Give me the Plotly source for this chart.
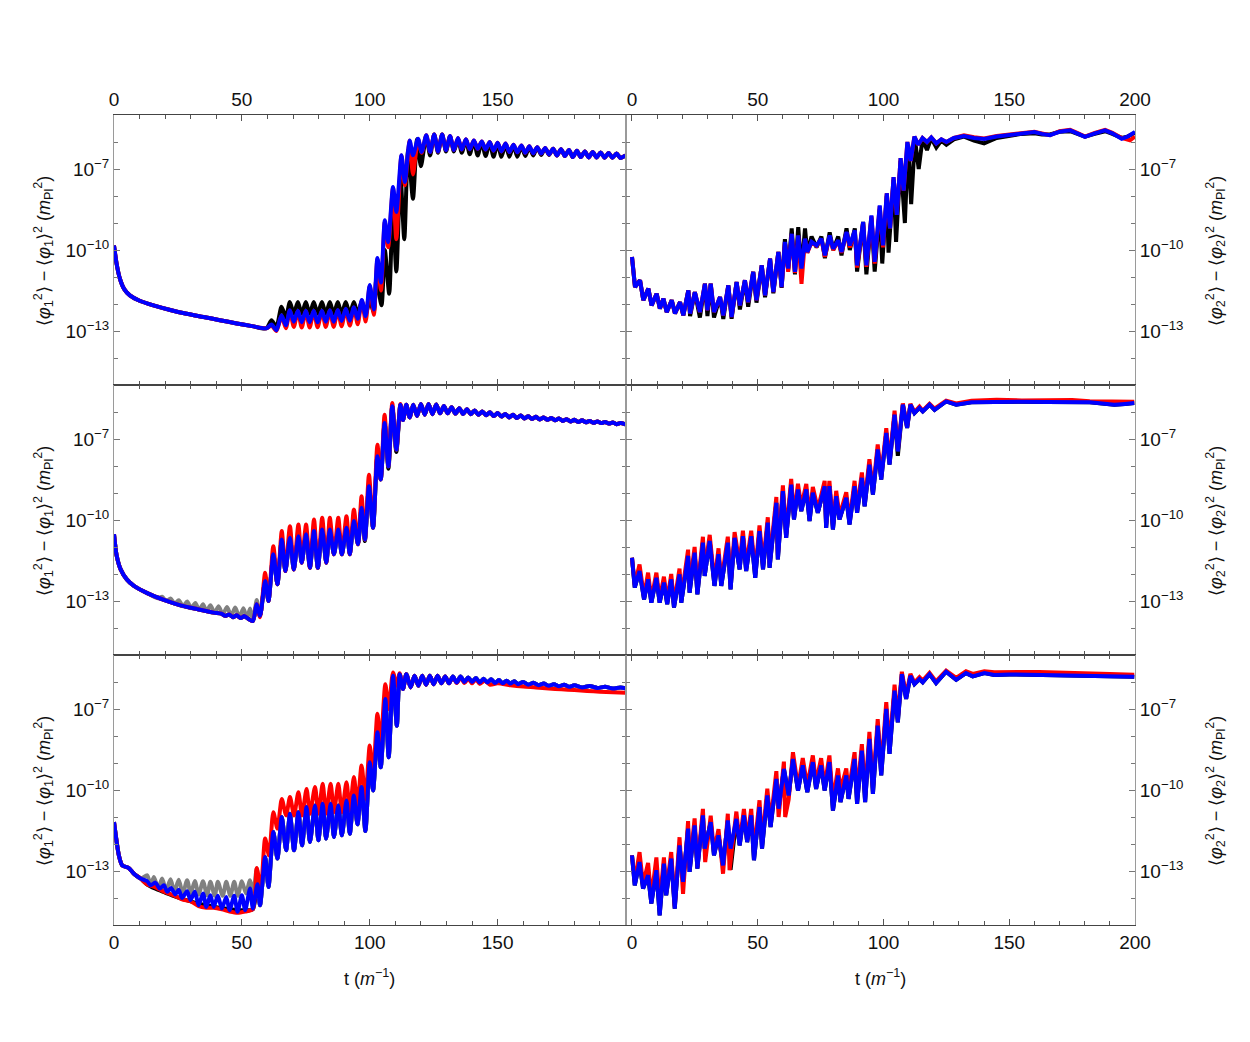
import plotly.graph_objects as go

# ---------------- data: (t in 1/m, log10 of variance in m_Pl^2) ----------------
# ---- top-left panel ----
tl_start = [(0,-9.83),(1,-10.5),(2.3,-11.06),(4,-11.45),(6.2,-11.68),(10,-11.88),(15.4,-12.05),(22,-12.22),
            (28.4,-12.36),(35,-12.48),(41.4,-12.6),(48,-12.72),(54,-12.82),(59.6,-12.9)]
tl_blue_mid = [(61.6,-12.76),(63.5,-12.97),(65.5,-12.42),(67.2,-12.79),(68.75,-12.23),(70.3,-12.66),(71.9,-12.25),
               (73.4,-12.68),(75.0,-12.25),(76.5,-12.68),(78.1,-12.25),(79.6,-12.68),(81.3,-12.25),(82.8,-12.66),
               (84.4,-12.23),(85.9,-12.66),(87.5,-12.22),(89.0,-12.63),(90.6,-12.18),(92.2,-12.62),(93.8,-12.12),
               (95.3,-12.55),(96.9,-11.85),(98.4,-12.45),(100,-11.3),(101.6,-12.2),(103,-10.3),(104.4,-11.2),
               (105.9,-8.9),(107.2,-9.7),(109.1,-7.67),(110.4,-8.59),(112.4,-6.49),(113.7,-7.48),(115.6,-5.94),
               (116.9,-6.49),(118.9,-5.88),(120.3,-6.37)]
tl_red_mid = [(61.6,-12.8),(63.5,-13.0),(65.5,-12.45),(67.2,-12.9),(68.75,-12.25),(70.3,-12.85),(71.9,-12.27),
              (73.4,-12.87),(75.0,-12.27),(76.5,-12.87),(78.1,-12.27),(79.6,-12.86),(81.3,-12.27),(82.8,-12.85),
              (84.4,-12.25),(85.9,-12.85),(87.5,-12.24),(89.0,-12.82),(90.6,-12.2),(92.2,-12.8),(93.8,-12.14),
              (95.3,-12.75),(96.9,-11.87),(98.4,-12.65),(100,-11.32),(101.6,-12.4),(103,-10.35),(104.4,-11.5),
              (105.9,-8.95),(107.2,-9.9),(109.1,-7.7),(110.4,-9.6),(112.4,-6.5),(113.7,-7.6),(115.6,-5.95),
              (116.9,-7.2),(118.9,-5.9),(120.3,-6.4)]
tl_black_mid = [(61.6,-12.6),(63.5,-12.85),(65.5,-12.1),(67.2,-12.5),(68.75,-11.93),(70.3,-12.36),(71.9,-11.93),
                (73.4,-12.36),(75.0,-11.93),(76.5,-12.36),(78.1,-11.93),(79.6,-12.36),(81.3,-11.93),(82.8,-12.36),
                (84.4,-11.93),(85.9,-12.36),(87.5,-11.93),(89.0,-12.36),(90.6,-11.93),(92.2,-12.36),(93.8,-11.93),
                (95.3,-12.36),(96.9,-11.9),(98.4,-12.36),(100,-11.9),(101.6,-12.3),(102.6,-11.06),(104.6,-12.05),
                (105.9,-10.0),(107.6,-11.62),(109,-8.5),(110.4,-10.8),(112,-7.2),(113.5,-9.6),(115,-6.3),
                (116.9,-8.1),(118.5,-5.9),(120,-6.9)]
tl_late = [(122.1,-5.75),(123.6,-6.37),(125.2,-5.72),(126.7,-6.35),(128.3,-5.72),(129.8,-6.3),(131.4,-5.78),
           (132.9,-6.3),(134.5,-5.85),(136,-6.28),(137.6,-5.9),(139.1,-6.27),(140.7,-5.94),(142.2,-6.25),
           (143.8,-5.98),(145.3,-6.28),(146.9,-6.0),(148.4,-6.32),(150,-6.03),(151.5,-6.35),(153.1,-6.06),
           (154.6,-6.37),(156.2,-6.1),(157.7,-6.38),(159.3,-6.13),(160.8,-6.4),(162.4,-6.16),(163.9,-6.42),
           (165.5,-6.19),(167,-6.43),(168.6,-6.22),(170.1,-6.46)]
tl_black_late = [(122.1,-5.78),(123.6,-6.5),(125.2,-5.72),(126.7,-6.4),(128.3,-5.72),(129.8,-6.35),(131.4,-5.8),
                 (132.9,-6.35),(134.5,-5.9),(136,-6.4),(137.6,-5.92),(139.1,-6.45),(140.7,-5.96),(142.2,-6.5),
                 (143.8,-6.0),(145.3,-6.52),(146.9,-6.02),(148.4,-6.55),(150,-6.05),(151.5,-6.55),(153.1,-6.08),
                 (154.6,-6.55),(156.2,-6.12),(157.7,-6.55),(159.3,-6.15),(160.8,-6.52),(162.4,-6.18),(163.9,-6.5),
                 (165.5,-6.2),(167,-6.48),(168.6,-6.23),(170.1,-6.48)]
tl_tail = [(171.7,-6.25),(173.2,-6.5),(174.8,-6.27),(176.3,-6.52),(177.9,-6.3),(179.4,-6.56),(181,-6.32),
           (182.5,-6.56),(184.1,-6.35),(185.6,-6.57),(187.2,-6.37),(188.7,-6.57),(190.3,-6.39),(191.8,-6.58),
           (193.4,-6.41),(194.9,-6.58),(196.5,-6.43),(198,-6.59),(200,-6.5)]

# ---- top-right panel ----
tr_start = [(0,-10.26),(1.2,-11.37),(3.2,-11.12),(4.5,-11.86),(6.5,-11.43),(7.8,-12.05),(9.8,-11.62),(11.1,-12.17),
            (12.5,-11.8),(13.8,-12.3),(15.8,-11.86),(17.1,-12.35),(19.1,-11.93),(20.4,-12.42)]
tr_blue_early = [(22.4,-11.5),(23.1,-12.35),(25.0,-11.56),(27.0,-12.3),(29.0,-11.25),(30.0,-12.23),(31.3,-11.25),
                 (32.6,-12.3),(35.0,-11.74),(36.3,-12.42),(38.3,-11.31),(39.6,-12.48),(41.6,-11.19),(42.9,-12.05),
                 (44.9,-11.12),(46.2,-11.93),(48.2,-10.81),(49.5,-11.86),(51.6,-10.57),(52.9,-11.68),(54.9,-10.32),
                 (56.2,-11.56),(58.2,-10.07),(59.5,-11.37)]
tr_black_early = [(22.4,-11.5),(23.1,-12.45),(25.0,-11.56),(27.0,-12.5),(29.0,-11.25),(30.0,-12.45),(31.3,-11.25),
                  (32.6,-12.5),(35.0,-11.74),(36.3,-12.55),(38.3,-11.31),(39.6,-12.55),(41.6,-11.19),(42.9,-12.2),
                  (44.9,-11.12),(46.2,-12.1),(48.2,-10.81),(49.5,-11.95),(51.6,-10.57),(52.9,-11.75),(54.9,-10.32),
                  (56.2,-11.6),(58.2,-10.07),(59.5,-11.4)]
tr_blue_mid = [(60.8,-9.70),(62.1,-10.69),(63.5,-9.40),(64.8,-10.81),(66.1,-9.46),(67.4,-10.69),(68.8,-9.58),
               (69.7,-10.07),(71.4,-9.70),(73.4,-9.83),(75.3,-9.58),(76.7,-10.20),(78.6,-9.46),(80,-9.95),
               (82,-9.64),(83.3,-10.07),(85.3,-9.33),(86.6,-9.83),(88.6,-9.27),(89.5,-10.57),(91.9,-8.96),
               (93.2,-10.57),(95.2,-8.72),(96.5,-10.44),(98.5,-8.35),(99.8,-9.83)]
tr_red_mid = [(60.8,-9.72),(62.1,-10.81),(63.5,-9.42),(64.8,-10.85),(66.1,-9.48),(67.4,-11.25),(68.8,-9.6),
              (69.7,-10.1),(71.4,-9.72),(73.4,-9.85),(75.3,-9.6),(76.7,-10.25),(78.6,-9.48),(80,-10.0),
              (82,-9.66),(83.3,-10.1),(85.3,-9.35),(86.6,-9.9),(88.6,-9.3),(89.5,-10.65),(91.9,-8.98),
              (93.2,-10.62),(95.2,-8.75),(96.5,-10.5),(98.5,-8.38),(99.8,-9.9)]
tr_growth = [(101.3,-7.9),(102.6,-9.2),(104,-7.3),(105.3,-8.7),(106.8,-6.6),(108,-7.8),(109.5,-6.0),(110.8,-6.7),
             (112.3,-5.8),(113.8,-6.1),(115.5,-5.85),(117.3,-6.0),(119,-5.83),(121,-6.05),(123,-5.9),(125,-6.0)]
tr_black_mid = [(60.8,-9.6),(62.1,-10.75),(63.5,-9.2),(64.8,-10.9),(66.1,-9.15),(67.4,-10.75),(68.8,-9.2),
                (69.7,-10.1),(71.4,-9.5),(73.4,-9.9),(75.3,-9.5),(76.7,-10.3),(78.6,-9.35),(80,-10.0),(82,-9.5),
                (83.3,-10.2),(85.3,-9.2),(86.6,-10.0),(88.6,-9.2),(89.5,-10.8),(91.9,-8.96),(93.2,-10.9),
                (95.2,-8.8),(96.5,-10.8),(98.5,-8.5),(99.5,-10.5),(101.3,-8.0),(102,-10.1),(104,-7.4),(105,-9.7),
                (106.8,-6.7),(108.5,-9.0),(109.8,-6.1),(111,-8.3),(112.5,-5.9),(114,-7.0),(115.5,-5.9),
                (117.3,-6.3),(119,-5.85),(121,-6.2),(123,-5.95),(125,-6.1)]
tr_blue_late = [(128,-5.85),(132,-5.78),(136,-5.85),(140,-5.89),(145,-5.8),(150,-5.74),(155,-5.68),(160,-5.63),
                (163,-5.7),(166.2,-5.75),(170,-5.62),(174.2,-5.57),(177,-5.68),(180.1,-5.81),(184,-5.68),
                (188.1,-5.57),(191,-5.68),(194.7,-5.88),(197,-5.8),(200,-5.63)]
tr_red_late = [(128,-5.85),(132,-5.75),(136,-5.82),(140,-5.87),(145,-5.78),(150,-5.72),(155,-5.66),(160,-5.62),
               (163,-5.68),(166.2,-5.75),(170,-5.6),(174.2,-5.55),(177,-5.66),(180.1,-5.8),(184,-5.66),
               (188.1,-5.55),(191,-5.66),(194.7,-5.85),(198,-5.94),(200,-5.8)]
tr_black_late = [(128,-5.9),(132,-5.8),(136,-5.95),(140,-6.05),(145,-5.85),(150,-5.78),(155,-5.7),(160,-5.68),
                 (163,-5.72),(166.2,-5.72),(170,-5.62),(174.2,-5.6),(177,-5.68),(180.1,-5.8),(184,-5.7),
                 (188.1,-5.6),(191,-5.7),(194.7,-5.85),(197,-5.8),(200,-5.66)]

# ---- middle-left panel ----
ml_start = [(0,-10.53),(1,-11.3),(2.6,-11.83),(5,-12.2),(7.8,-12.44),(13,-12.71)]
ml_blue_early = [(19.5,-12.96),(26,-13.16),(32.5,-13.3),(39,-13.43),(42,-13.47),(43.5,-13.55),(45,-13.5),
                 (46.5,-13.6),(48,-13.53),(49.5,-13.63),(51,-13.56),(52.5,-13.66),(54.3,-13.74),(55.8,-13.12)]
ml_gray_early = [(17.2,-12.9),(18.8,-12.84),(20.4,-13.0),(22.1,-12.91),(23.7,-13.1),(25.3,-12.97),(27,-13.19),
                 (28.6,-13.02),(30.2,-13.27),(31.8,-13.07),(33.3,-13.33),(34.8,-13.12),(36.2,-13.38),(37.7,-13.16),
                 (39.3,-13.44),(40.9,-13.19),(42.5,-13.5),(44.2,-13.22),(45.8,-13.55),(47.4,-13.24),(49,-13.6),
                 (50.6,-13.27),(52,-13.64),(53.2,-13.28),(54.4,-13.72),(55.8,-12.96)]
ml_growth = [(57.1,-13.55),(59.1,-12.26),(60.4,-13.0),(62.3,-11.27),(63.9,-12.38),(65.6,-10.72),(67,-11.89),
             (68.8,-10.66),(70.3,-11.83),(72.1,-10.6),(73.4,-11.58),(75.1,-10.53),(76.6,-11.77),(78.2,-10.41),
             (79.7,-11.77),(81.4,-10.35),(83,-11.58),(84.4,-10.35),(86,-11.27),(87.7,-10.35),(89.1,-11.27),
             (90.9,-10.29),(92.2,-11.27),(93.8,-10.04),(95.4,-10.9),(96.8,-9.55),(98.1,-10.72),(99.7,-8.75),
             (101.3,-10.29),(103,-7.64),(104.3,-8.5),(105.8,-6.41),(107.3,-8.01),(108.8,-5.79),(110.4,-7.39),
             (112,-5.73)]
ml_black_growth = [(57.1,-13.55),(59.1,-12.26),(60.4,-13.0),(62.3,-11.27),(63.9,-12.38),(65.6,-10.72),(67,-11.89),
                   (68.8,-10.66),(70.3,-11.83),(72.1,-10.6),(73.4,-11.58),(75.1,-10.53),(76.6,-11.77),(78.2,-10.41),
                   (79.7,-11.77),(81.4,-10.35),(83,-11.58),(84.4,-10.35),(86,-11.27),(87.7,-10.35),(89.1,-11.27),
                   (90.9,-10.29),(92.2,-11.27),(93.8,-10.04),(95.4,-10.9),(96.8,-9.55),(98.1,-10.78),(99.7,-8.75),
                   (101.3,-10.29),(103,-7.64),(104.3,-8.5),(105.8,-6.41),(107.3,-8.1),(108.8,-5.79),(110.4,-7.48),
                   (112,-5.73)]
ml_red_growth = [(57.1,-13.6),(59.1,-11.95),(60.4,-13.0),(62.3,-10.97),(63.9,-12.38),(65.6,-10.41),(67,-11.89),
                 (68.8,-10.23),(70.3,-11.83),(72.1,-10.17),(73.4,-11.58),(75.1,-10.17),(76.6,-11.77),(78.2,-9.98),
                 (79.7,-11.77),(81.4,-9.92),(83,-11.58),(84.4,-9.92),(86,-11.27),(87.7,-9.92),(89.1,-11.27),
                 (90.9,-9.86),(92.2,-11.27),(93.8,-9.61),(95.4,-10.9),(96.8,-9.12),(98.1,-10.72),(99.7,-8.32),
                 (101.3,-10.29),(103,-7.21),(104.3,-8.5),(105.8,-6.1),(107.3,-8.01),(108.8,-5.67),(110.4,-7.39),
                 (112,-5.7)]
ml_late = [(113,-6.3),(114.3,-5.73),(115.6,-6.2),(117,-5.73),(118.5,-6.15),(120,-5.7),(121.5,-6.1),(123,-5.7),
           (124.5,-6.08),(126,-5.72),(127.5,-6.05),(129,-5.78),(130.5,-6.05),(132,-5.82),(133.5,-6.06),(135,-5.86),
           (136.5,-6.07),(138,-5.9),(139.5,-6.08),(141,-5.94),(142.5,-6.1),(144,-5.98),(145.5,-6.12),(147,-6.01),
           (148.5,-6.15),(150,-6.04),(151.5,-6.17),(153,-6.07),(154.5,-6.2),(156,-6.1),(157.5,-6.22),(159,-6.13),
           (160.5,-6.24),(162,-6.16),(163.5,-6.26),(165,-6.18),(166.5,-6.28),(168,-6.2),(169.5,-6.29),(171,-6.22),
           (172.5,-6.31),(174,-6.24),(175.5,-6.33),(177,-6.27),(178.5,-6.35),(180,-6.29),(181.5,-6.37),(183,-6.31),
           (184.5,-6.38),(186,-6.33),(187.5,-6.4),(189,-6.35),(190.5,-6.41),(192,-6.37),(193.5,-6.43),(195,-6.39),
           (196.5,-6.45),(198,-6.41),(200,-6.46)]

# ---- middle-right panel ----
mr_part1 = [(0,-11.40),(1.1,-12.5),(3.0,-11.89),(4.8,-12.94),(6.4,-12.2),(7.7,-13.06),(9.7,-12.14),(11.0,-13.06),
            (12.7,-12.32),(14.0,-13.12),(15.6,-12.2),(16.7,-13.24),(18.9,-12.01),(19.6,-13.06),(22.3,-11.33),
            (22.9,-12.69),(24.9,-11.21),(26.0,-12.75),(28.2,-10.84),(28.9,-12.07),(30.9,-10.78),(32.8,-12.44),
            (34.4,-11.27),(35.5,-12.44),(38.1,-10.84),(39.2,-12.57),(40.8,-10.66),(42.8,-11.83),(44.1,-10.60),
            (45.4,-11.89),(47.4,-10.60),(49.0,-12.14),(50.7,-10.41),(52.1,-11.83),(54.0,-10.10),(54.7,-11.77),
            (57.4,-9.36),(58.0,-11.46),(60.0,-8.93),(61.3,-10.66),(63.3,-8.69),(64.4,-9.98),(66.0,-8.87),
            (67.3,-9.67),(69.3,-8.87),(70.6,-10.04),(71.9,-8.99),(73.9,-9.73),(76.6,-8.75),(77.2,-10.29),
            (78.5,-8.75),(79.9,-10.35),(81.2,-9.12),(82.5,-9.98),(85.2,-9.18),(86.5,-10.17),(88.5,-8.75),
            (89.5,-9.73),(91.4,-8.44),(92.5,-9.49),(94.4,-7.95),(95.8,-9.06),(97.7,-7.39),(99.1,-8.50),
            (101.1,-6.78),(102.4,-7.95),(104.4,-6.10)]
mr_blue_dip = [(105.7,-7.46)]
mr_black_dip = [(105.7,-7.62)]
mr_part2 = [(107.7,-5.73),(109.4,-6.59),(110.7,-5.73),(112.3,-6.04),(114.3,-5.85),(115.6,-5.98),(118.3,-5.73),
            (120.3,-5.92),(124.9,-5.61),(128.9,-5.73),(135,-5.64),(145,-5.62),(155,-5.62),(165,-5.63),(175,-5.62),
            (182,-5.64),(186,-5.68),(191.8,-5.73),(196,-5.7),(199.7,-5.67)]
mr_red = [(0,-11.40),(1.1,-12.4),(3.0,-11.65),(4.8,-12.85),(6.4,-11.95),(7.7,-12.95),(9.7,-11.95),(11.0,-12.95),
          (12.7,-12.1),(14.0,-13.0),(15.6,-12.0),(16.7,-13.1),(18.9,-11.8),(19.6,-12.9),(22.3,-11.1),(22.9,-12.5),
          (24.9,-11.0),(26.0,-12.6),(28.2,-10.62),(28.9,-11.9),(30.9,-10.55),(32.8,-12.3),(34.4,-11.05),
          (35.5,-12.3),(38.1,-10.62),(39.2,-12.4),(40.8,-10.45),(42.8,-11.65),(44.1,-10.4),(45.4,-11.7),
          (47.4,-10.4),(49.0,-11.95),(50.7,-10.2),(52.1,-11.65),(54.0,-9.9),(54.7,-11.6),(57.4,-9.15),(58.0,-11.3),
          (60.0,-8.72),(61.3,-10.5),(63.3,-8.48),(64.4,-9.85),(66.0,-8.66),(67.3,-9.5),(69.3,-8.66),(70.6,-9.9),
          (71.9,-8.78),(73.9,-9.6),(76.6,-8.55),(77.2,-10.15),(78.5,-8.55),(79.9,-10.2),(81.2,-8.92),(82.5,-9.85),
          (85.2,-8.97),(86.5,-10.05),(88.5,-8.55),(89.5,-9.6),(91.4,-8.24),(92.5,-9.35),(94.4,-7.75),(95.8,-8.92),
          (97.7,-7.2),(99.1,-8.38),(101.1,-6.6),(102.4,-7.85),(104.4,-5.95),(105.7,-7.4),(107.7,-5.68),
          (109.4,-6.55),(110.7,-5.7),(112.3,-6.0),(114.3,-5.8),(115.6,-5.95),(118.3,-5.7),(120.3,-5.88),
          (124.9,-5.58),(128.9,-5.68),(135,-5.58),(145,-5.55),(155,-5.57),(165,-5.55),(175,-5.56),(182,-5.6),
          (186,-5.6),(191.8,-5.62),(196,-5.62),(199.7,-5.62)]

# ---- bottom-left panel ----
bl_start = [(0,-11.19),(1.9,-12.42),(3.2,-12.79),(5.8,-12.89),(7.8,-13.10),(10.4,-13.28)]
bl_blue_early = [(13,-13.38),(14.3,-13.53),(16.2,-13.43),(17.9,-13.65),(19.5,-13.53),(20.8,-13.77),(22.3,-13.63),
                 (24.0,-13.87),(25.3,-13.69),(26.6,-14.0),(28.6,-13.75),(29.9,-14.08),(31.6,-13.77),(33.1,-14.27),
                 (34.8,-13.83),(36.1,-14.33),(37.7,-13.90),(39.0,-14.33),(40.6,-13.92),(42.2,-14.39),(43.9,-13.96),
                 (45.2,-14.45),(47.0,-13.92),(48.3,-14.51),(50.0,-13.90),(51.3,-14.45),(53.2,-13.65),(54.3,-14.39),
                 (56.1,-13.49)]
bl_black_early = [(13,-13.5),(16,-13.65),(20,-13.8),(24,-13.95),(28,-14.07),(32,-14.18),(36,-14.27),(40,-14.34),
                  (44,-14.4),(48,-14.44),(52,-14.45),(54.3,-14.42),(56.1,-13.49)]
bl_gray_early = [(13,-13.16),(14.3,-13.53),(15.6,-13.22),(17.3,-13.65),(18.8,-13.28),(20.4,-13.71),(22.1,-13.31),
                 (23.6,-13.77),(25.3,-13.32),(26.9,-13.83),(28.6,-13.34),(30.0,-13.83),(31.6,-13.37),(33.1,-13.87),
                 (34.8,-13.38),(36.4,-13.90),(37.7,-13.40),(39.4,-13.92),(40.6,-13.40),(42.5,-13.92),(43.9,-13.40),
                 (45.5,-13.92),(47.0,-13.40),(48.4,-13.92),(50.0,-13.38),(51.6,-13.83),(53.2,-13.34),(54.5,-13.77),
                 (55.8,-12.91)]
bl_growth = [(57.1,-14.27),(59.1,-12.48),(60.4,-13.59),(62.3,-11.56),(63.9,-12.54),(65.6,-11.0),(67.3,-12.23),
             (68.8,-10.88),(70.4,-12.23),(72.1,-10.82),(73.5,-12.05),(75.3,-10.63),(76.6,-11.93),(78.6,-10.57),
             (79.9,-11.86),(81.6,-10.51),(82.9,-11.80),(84.7,-10.51),(86.0,-11.74),(87.7,-10.57),(89.1,-11.68),
             (90.9,-10.39),(92.2,-11.62),(93.8,-10.20),(95.2,-11.27),(96.8,-9.89),(98.3,-11.52),(100,-8.97),
             (101.3,-10.02),(103.0,-7.86),(104.3,-9.16),(106.1,-6.63),(107.4,-8.79),(109.1,-5.77),(110.6,-7.62),
             (111.7,-5.71)]
bl_late = [(113.0,-6.26),(114.3,-5.71),(116.0,-6.20),(117.5,-5.77),(119,-6.14),(120.5,-5.77),(122,-6.1),
           (123.5,-5.77),(125,-6.08),(126.5,-5.77),(128,-6.05),(129.5,-5.8),(131,-6.05),(132.5,-5.8),(134,-6.02),
           (135.5,-5.8),(137,-6.0),(138.5,-5.83),(140,-6.0),(141.5,-5.85),(143,-6.02),(144.5,-5.88),(146,-6.02),
           (147.5,-5.9),(149,-6.04),(150.5,-5.93),(152,-6.05),(153.5,-5.95),(155,-6.06),(156.5,-5.97),(158,-6.08),
           (160,-6.0),(162,-6.1),(164,-6.03),(166,-6.12),(168,-6.06),(170,-6.14),(172,-6.08),(174,-6.16),
           (176,-6.1),(178,-6.18),(180,-6.12),(183,-6.2),(186,-6.15),(189,-6.22),(192,-6.18),(195,-6.24),
           (198,-6.2),(200,-6.23)]
bl_red_early = [(13,-13.5),(16,-13.6),(20,-13.78),(24,-13.93),(26.6,-14.05),(29.9,-14.12),(33.1,-14.3),
                (36.1,-14.36),(39.0,-14.36),(42.2,-14.42),(45.2,-14.5),(48.3,-14.55),(51.3,-14.5),(54.3,-14.42)]
bl_red_growth = [(55.8,-12.89),(57.4,-13.65),(59.1,-11.80),(60.6,-12.42),(62.3,-10.82),(63.9,-11.43),(65.6,-10.33),
                 (67.3,-10.94),(68.8,-10.26),(70.4,-10.94),(72.1,-10.08),(73.5,-10.94),(75.3,-9.96),(76.6,-10.88),
                 (78.6,-9.89),(79.9,-10.88),(81.6,-9.77),(82.9,-10.88),(84.7,-9.77),(86,-10.82),(87.7,-9.77),
                 (89.1,-10.82),(90.9,-9.71),(92.2,-10.76),(93.8,-9.52),(95.2,-10.57),(96.8,-9.09),(98.3,-10.33),
                 (100,-8.35),(101.3,-9.46),(103.0,-7.18),(104.3,-8.23),(106.1,-6.08),(107.4,-7.0),(109.1,-5.65),
                 (110.6,-6.14),(111.7,-5.68)]
bl_red_late = [(113.0,-6.26),(114.3,-5.71),(116.0,-6.2),(117.5,-5.77),(119,-6.14),(120.5,-5.77),(122,-6.1),
               (123.5,-5.77),(125,-6.08),(126.5,-5.77),(128,-6.05),(129.5,-5.8),(131,-6.05),(132.5,-5.82),
               (134,-6.04),(135.5,-5.84),(137,-6.04),(138.5,-5.87),(140,-6.05),(141.5,-5.9),(143,-6.07),
               (145,-5.95),(147,-6.1),(150,-6.05),(155,-6.12),(160,-6.17),(165,-6.2),(170,-6.24),(175,-6.27),
               (180,-6.3),(185,-6.33),(190,-6.36),(195,-6.38),(200,-6.4)]

# ---- bottom-right panel ----
br_part1 = [(0,-12.42),(1.1,-13.53),(3.0,-12.67),(4.4,-13.65),(6.4,-13.16),(7.7,-14.2),(9.7,-12.97),(11.0,-14.64),
            (12.7,-12.73),(13.6,-13.90),(15.6,-12.54),(17.0,-14.39),(18.9,-12.05),(20.3,-13.40),(22.3,-11.43),
            (22.9,-13.03),(24.9,-11.31),(26.0,-12.91),(28.2,-10.94),(28.9,-12.17),(31.3,-11.19),(32.6,-12.42),
            (34.4,-11.68),(36.2,-12.79)]
br_blue_dip = [(38.1,-11.13),(39.2,-12.17)]
br_black_dip = [(38.1,-11.13),(39.2,-12.95)]
br_part2 = [(41.5,-11.07),(42.8,-12.05),(44.5,-10.94),(45.8,-11.93),(47.4,-10.94),(48.5,-12.60),(50.7,-10.63),
            (51.7,-12.17),(53.8,-10.20),(55.1,-11.37),(57.4,-9.59),(58.3,-10.69),(60.4,-9.22),(62.3,-10.20),
            (64.0,-8.85),(66.0,-10.02),(67.9,-9.09),(69.7,-10.08),(71.9,-8.97),(73.2,-9.96),(75.2,-9.09),
            (76.6,-10.02),(78.5,-8.97),(79.9,-10.76),(81.9,-9.46),(82.9,-10.45),(85.2,-9.46),(86.1,-10.33),
            (88.5,-8.85),(89.5,-10.51),(91.4,-8.54),(92.7,-10.45),(94.4,-8.11),(95.8,-10.14),(97.7,-7.62),
            (99.1,-9.46),(101.1,-7.0),(102.4,-8.66),(104.4,-6.32),(105.7,-7.49),(107.3,-5.71),(109.0,-6.63),
            (110.7,-5.77),(112.3,-6.08),(114.3,-5.89),(115.6,-6.01),(118.3,-5.71),(120.9,-6.04),(124.9,-5.62),
            (128.9,-5.92),(132.8,-5.67),(135.5,-5.79),(140.1,-5.67),(144.1,-5.74),(150,-5.72),(156.0,-5.73),
            (162,-5.73),(169.3,-5.74),(176,-5.75),(182.5,-5.77),(190,-5.78),(199.7,-5.81)]
br_red = [(0,-12.42),(1.1,-13.4),(3.0,-12.3),(4.4,-13.5),(6.4,-12.7),(7.7,-14.0),(9.7,-12.5),(11.0,-14.2),
          (12.7,-12.5),(13.6,-13.8),(15.6,-12.3),(17.0,-14.3),(18.9,-11.75),(20.3,-13.85),(22.3,-11.15),(22.9,-12.9),
          (24.9,-11.05),(26.0,-12.85),(28.2,-10.7),(29.1,-12.67),(31.3,-10.95),(32.6,-12.3),(34.4,-11.45),
          (36.2,-13.1),(38.1,-10.88),(38.8,-12.97),(41.5,-10.8),(42.8,-11.95),(44.5,-10.7),(45.8,-11.85),
          (47.4,-10.7),(48.5,-12.3),(50.7,-10.38),(51.7,-11.95),(53.8,-9.95),(55.1,-11.2),(57.4,-9.3),(58.3,-11.0),
          (60.4,-8.95),(60.9,-11.0),(62.3,-10.35),(64.0,-8.6),(66.0,-9.9),(67.9,-8.82),(69.7,-9.85),(71.9,-8.72),
          (73.2,-9.75),(75.2,-8.82),(76.6,-9.85),(78.5,-8.72),(79.9,-10.4),(81.9,-9.2),(82.9,-10.0),(85.2,-9.2),
          (86.1,-10.1),(88.5,-8.6),(89.5,-10.2),(91.4,-8.3),(92.7,-10.2),(94.4,-7.85),(95.8,-9.9),(97.7,-7.38),
          (99.1,-9.25),(101.1,-6.75),(102.4,-8.45),(104.4,-6.1),(105.7,-7.35),(107.3,-5.62),(109.0,-6.5),
          (110.7,-5.7),(112.3,-6.02),(114.3,-5.82),(115.6,-5.95),(118.3,-5.66),(120.9,-5.98),(124.9,-5.58),
          (128.9,-5.85),(132.8,-5.6),(135.5,-5.7),(140.1,-5.6),(144.1,-5.64),(150,-5.62),(156.0,-5.63),
          (162,-5.63),(169.3,-5.64),(176,-5.66),(182.5,-5.68),(190,-5.7),(199.7,-5.73)]

# axis labels
x_major_left = [0, 50, 100, 150]
x_major_right = [0, 50, 100, 150, 200]
x_minor = list(range(0, 201, 10))
y_major = [-13, -10, -7]
y_minor = [-14, -12, -11, -9, -8, -6]
title_left = "⟨<i>φ</i><sub>1</sub><sup>2</sup>⟩ − ⟨<i>φ</i><sub>1</sub>⟩<sup>2</sup> (<i>m</i><sub>Pl</sub><sup>2</sup>)"
title_right = "⟨<i>φ</i><sub>2</sub><sup>2</sup>⟩ − ⟨<i>φ</i><sub>2</sub>⟩<sup>2</sup> (<i>m</i><sub>Pl</sub><sup>2</sup>)"
title_x = "t (<i>m</i><sup>−1</sup>)"

# ---------------- build series per panel ----------------
BLACK, RED, BLUE, GRAY = "#000000", "#ff0000", "#0000ff", "#808080"
panels = {
    1: [(BLACK, tl_start + tl_black_mid + tl_black_late + tl_tail),
        (RED, tl_start + tl_red_mid + tl_late + tl_tail),
        (BLUE, tl_start + tl_blue_mid + tl_late + tl_tail)],
    2: [(BLACK, tr_start + tr_black_early + tr_black_mid + tr_black_late),
        (RED, tr_start + tr_blue_early + tr_red_mid + tr_growth + tr_red_late),
        (BLUE, tr_start + tr_blue_early + tr_blue_mid + tr_growth + tr_blue_late)],
    3: [(BLACK, ml_start + ml_blue_early + ml_black_growth + ml_late),
        (GRAY, ml_start + ml_gray_early + ml_growth + ml_late),
        (RED, ml_start + ml_blue_early + ml_red_growth + ml_late),
        (BLUE, ml_start + ml_blue_early + ml_growth + ml_late)],
    4: [(BLACK, mr_part1 + mr_black_dip + mr_part2),
        (RED, mr_red),
        (BLUE, mr_part1 + mr_blue_dip + mr_part2)],
    5: [(BLACK, bl_start + bl_black_early + bl_growth + bl_late),
        (GRAY, bl_start + bl_gray_early + bl_growth + bl_late),
        (RED, bl_start + bl_red_early + bl_red_growth + bl_red_late),
        (BLUE, bl_start + bl_blue_early + bl_growth + bl_late)],
    6: [(BLACK, br_part1 + br_black_dip + br_part2),
        (RED, br_red),
        (BLUE, br_part1 + br_blue_dip + br_part2)],
}

W, H = 1250, 1042
def px_x(p): return p / W
def px_y(p): return (H - p) / H

x_dom = {0: [px_x(114), px_x(625.5)], 1: [px_x(625.5), px_x(1135)]}
y_dom = {0: [px_y(385), px_y(115)], 1: [px_y(655), px_y(385)], 2: [px_y(925), px_y(655)]}

fig = go.Figure()
FONT = "Liberation Sans, Arial, sans-serif"
TICKFONT = dict(size=19, family=FONT, color="#111")
layout = dict(width=W, height=H, margin=dict(l=0, r=0, t=0, b=0, autoexpand=False), paper_bgcolor="white",
              plot_bgcolor="white", showlegend=False, font=dict(family=FONT, size=18, color="#111"))

for i in range(1, 7):
    row, col = (i - 1) // 2, (i - 1) % 2
    xa = "x" if i == 1 else f"x{i}"
    ya = "y" if i == 1 else f"y{i}"
    shape = "spline" if col == 0 else "linear"
    for color, pts in panels[i]:
        line = dict(color=color, width=4, shape=shape)
        if shape == "spline":
            line["smoothing"] = 0.7
        fig.add_trace(go.Scatter(
            x=[p[0] for p in pts], y=[10 ** p[1] for p in pts], mode="lines",
            line=line, xaxis=xa, yaxis=ya, hoverinfo="skip"))
    xmaj = x_major_left if col == 0 else x_major_right
    xkey = "xaxis" if i == 1 else f"xaxis{i}"
    ykey = "yaxis" if i == 1 else f"yaxis{i}"
    layout[xkey] = dict(
        domain=x_dom[col], anchor=ya, range=[0, 200] if col == 0 else [-2.58, 200],
        automargin=False,
        showline=True, linecolor="#444", linewidth=1, mirror="allticks",
        ticks="inside", ticklen=6, tickwidth=1, tickcolor="#555",
        tickmode="array", tickvals=xmaj, ticktext=[str(v) for v in xmaj],
        minor=dict(tickmode="array", tickvals=x_minor, ticks="inside", ticklen=4, tickcolor="#555"),
        showticklabels=(row != 1), side="top" if row == 0 else "bottom",
        showgrid=False, zeroline=False, tickfont=TICKFONT)
    layout[ykey] = dict(
        domain=y_dom[row], anchor=xa, type="log", range=[-15, -5], automargin=False,
        showline=True, linecolor="#9a9a9a", linewidth=1, mirror="allticks",
        ticks="inside", ticklen=6, tickwidth=1, tickcolor="#777",
        tickmode="array", tickvals=[10 ** d for d in y_major],
        ticktext=[f"10<sup>−{-d}</sup>" for d in y_major],
        minor=dict(tickmode="array", tickvals=[10 ** d for d in y_minor], ticks="inside", ticklen=4,
                   tickcolor="#777"),
        side="left" if col == 0 else "right",
        showgrid=False, zeroline=False, tickfont=TICKFONT)

ann = []
for row, yc in enumerate([251, 521, 791]):
    ann.append(dict(text=title_left, x=px_x(43), y=px_y(yc), xref="paper", yref="paper",
                    showarrow=False, textangle=-90, xanchor="center", yanchor="middle",
                    font=dict(size=18, family=FONT, color="#111")))
    ann.append(dict(text=title_right, x=px_x(1215), y=px_y(yc), xref="paper", yref="paper",
                    showarrow=False, textangle=-90, xanchor="center", yanchor="middle",
                    font=dict(size=18, family=FONT, color="#111")))
for xc in [369, 880]:
    ann.append(dict(text=title_x, x=px_x(xc), y=px_y(977), xref="paper", yref="paper",
                    showarrow=False, xanchor="center", yanchor="middle",
                    font=dict(size=18, family=FONT, color="#111")))
layout["annotations"] = ann

fig.update_layout(**layout)
fig.write_html("out.html")
